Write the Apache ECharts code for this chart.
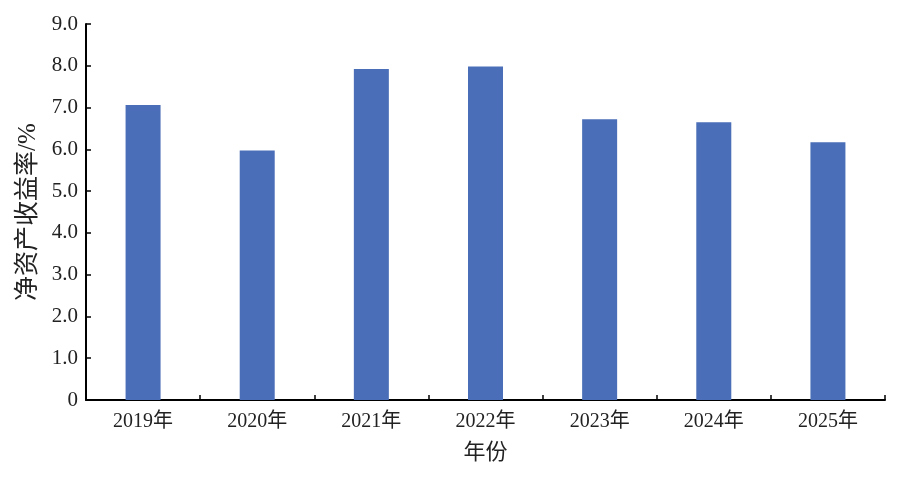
<!DOCTYPE html>
<html><head><meta charset="utf-8">
<script src="https://cdn.jsdelivr.net/npm/echarts@6/dist/echarts.min.js"></script>
<style>html,body{margin:0;padding:0;background:#fff}#c{width:900px;height:478px}</style>
</head><body><div id="c"></div>
<script>
const categories = ['2019年','2020年','2021年','2022年','2023年','2024年','2025年'];
const roeValues = [7.06, 5.97, 7.92, 7.98, 6.72, 6.65, 6.17];
const yAxisTitle = '净资产收益率/%';
const xAxisTitle = '年份';
const FONT = '"Liberation Serif","Times New Roman","Noto Sans CJK SC",serif';

const chart = echarts.init(document.getElementById('c'));
chart.setOption({
  animation: false,
  backgroundColor: '#fff',
  grid: {left: 86, right: 15, top: 24, bottom: 78, containLabel: false},
  xAxis: {
    type: 'category',
    data: categories,
    name: xAxisTitle,
    nameLocation: 'middle',
    nameGap: 42,
    nameTextStyle: {fontFamily: FONT, fontSize: 22, color: '#222'},
    axisLine: {lineStyle: {color: '#000', width: 2}},
    axisTick: {show: true, inside: true, length: 5, lineStyle: {color: '#000', width: 1.5}},
    axisLabel: {fontFamily: FONT, fontSize: 20, color: '#222', margin: 12},
    splitLine: {show: false}
  },
  yAxis: {
    type: 'value',
    min: 0, max: 9, interval: 1,
    name: yAxisTitle,
    nameLocation: 'middle',
    nameGap: 44,
    nameRotate: 90,
    nameTextStyle: {fontFamily: FONT, fontSize: 25, color: '#222'},
    axisLine: {show: true, lineStyle: {color: '#000', width: 2}},
    axisTick: {show: true, inside: true, length: 5, lineStyle: {color: '#000', width: 1.5}},
    axisLabel: {fontFamily: FONT, fontSize: 21, color: '#222', margin: 8,
      formatter: v => v === 0 ? '0' : v.toFixed(1)},
    splitLine: {show: false}
  },
  series: [{
    type: 'bar',
    data: roeValues,
    barWidth: 35,
    itemStyle: {color: '#4A6EB7'}
  }]
});
</script></body></html>
